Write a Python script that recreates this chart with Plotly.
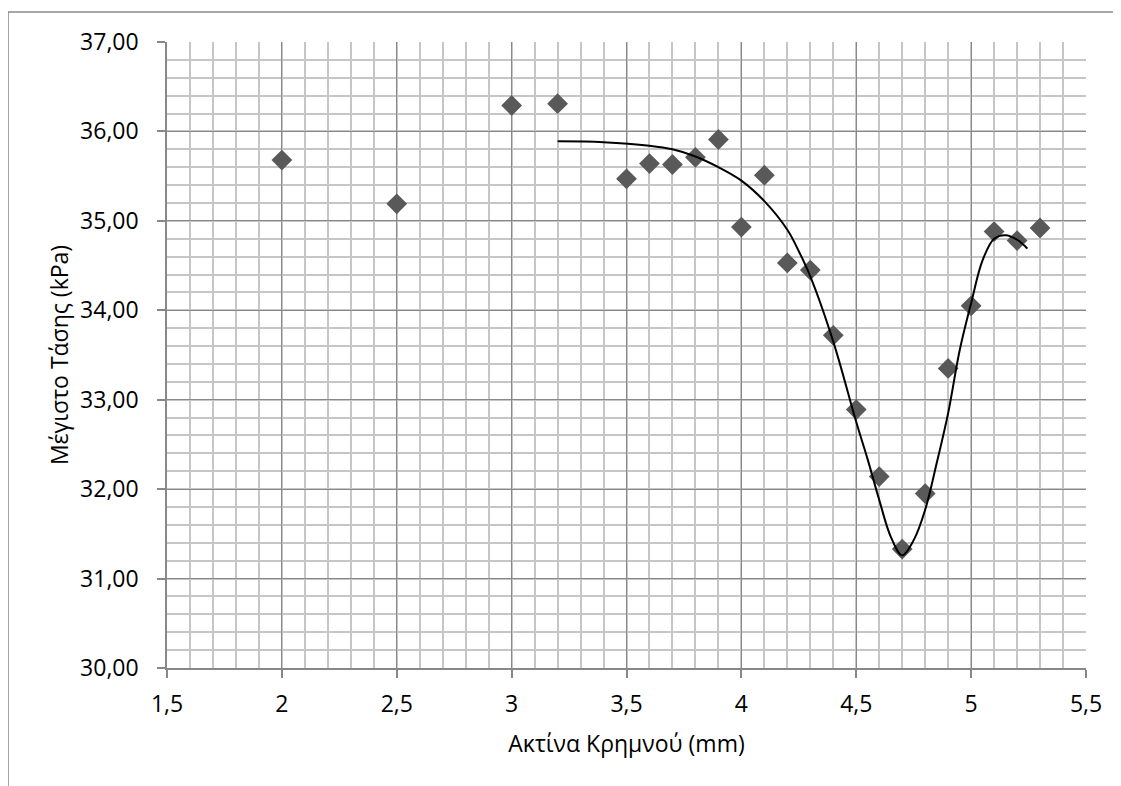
import plotly.graph_objects as go

# Measured data (radius in mm, max stress in kPa)
radius_mm = [2.0, 2.5, 3.0, 3.2, 3.5, 3.6, 3.7, 3.8, 3.9, 4.0, 4.1, 4.2, 4.3,
             4.4, 4.5, 4.6, 4.7, 4.8, 4.9, 5.0, 5.1, 5.2, 5.3]
max_stress_kpa = [35.68, 35.19, 36.29, 36.31, 35.47, 35.64, 35.63, 35.71, 35.91,
                  34.93, 35.51, 34.53, 34.45, 33.72, 32.89, 32.14, 31.33, 31.95,
                  33.35, 34.05, 34.88, 34.78, 34.92]

# Trend curve
trend_x = [3.2, 3.4, 3.6, 3.7, 3.8, 3.9, 4.0, 4.1, 4.2, 4.25, 4.3, 4.4, 4.5,
           4.55, 4.6, 4.65, 4.7, 4.75, 4.8, 4.85, 4.9, 4.95, 5.0, 5.05, 5.1,
           5.15, 5.2, 5.245]
trend_y = [35.89, 35.88, 35.84, 35.80, 35.72, 35.60, 35.45, 35.22, 34.90, 34.66,
           34.38, 33.65, 32.75, 32.33, 31.88, 31.47, 31.26, 31.43, 31.77, 32.29,
           32.85, 33.55, 34.08, 34.56, 34.80, 34.84, 34.79, 34.69]

x_tick_vals = [1.5, 2.0, 2.5, 3.0, 3.5, 4.0, 4.5, 5.0, 5.5]
x_tick_labels = ["1,5", "2", "2,5", "3", "3,5", "4", "4,5", "5", "5,5"]
y_tick_vals = [30, 31, 32, 33, 34, 35, 36, 37]
y_tick_labels = ["30,00", "31,00", "32,00", "33,00", "34,00", "35,00", "36,00", "37,00"]

x_title = "Ακτίνα Κρημνού (mm)"
y_title = "Μέγιστο Τάσης (kPa)"

FONT = "Open Sans, Noto Sans, DejaVu Sans, sans-serif"
MAJOR = "#888888"
MINOR = "#c6c6c6"

fig = go.Figure()
fig.add_trace(go.Scatter(
    x=radius_mm, y=max_stress_kpa, mode="markers",
    marker=dict(symbol="diamond", size=16, color="#595959", line=dict(width=0)),
    showlegend=False, cliponaxis=False,
))
fig.add_trace(go.Scatter(
    x=trend_x, y=trend_y, mode="lines",
    line=dict(color="black", width=2, shape="spline", smoothing=1.0),
    showlegend=False,
))

fig.update_layout(
    width=1113, height=778,
    margin=dict(l=159, r=35, t=34, b=118, autoexpand=False),
    paper_bgcolor="white", plot_bgcolor="white",
    font=dict(family=FONT, size=23, color="black"),
    shapes=[
        dict(type="line", xref="paper", yref="paper", x0=-0.173, x1=1.05,
             y0=1.048, y1=1.048, line=dict(color="#888888", width=1.5)),
        dict(type="line", xref="paper", yref="paper", x0=-0.173, x1=-0.173,
             y0=1.048, y1=-0.25, line=dict(color="#888888", width=1.5)),
    ],
)

fig.update_xaxes(
    range=[1.5, 5.5], tickvals=x_tick_vals, ticktext=x_tick_labels,
    showgrid=True, gridcolor=MAJOR, gridwidth=1.2,
    minor=dict(dtick=0.1, showgrid=True, gridcolor=MINOR, gridwidth=1.5),
    showline=True, linecolor=MAJOR, linewidth=1.5,
    ticks="outside", ticklen=8, tickcolor=MAJOR, tickwidth=1.5,
    ticklabelstandoff=7, automargin=False,
    zeroline=False,
    title=dict(text=x_title, standoff=18, font=dict(size=23)),
)
fig.update_yaxes(
    range=[30, 37], tickvals=y_tick_vals, ticktext=y_tick_labels,
    showgrid=True, gridcolor=MAJOR, gridwidth=1.2,
    minor=dict(dtick=0.2, showgrid=True, gridcolor=MINOR, gridwidth=1.5),
    showline=True, linecolor=MAJOR, linewidth=1.5,
    ticks="outside", ticklen=8, tickcolor=MAJOR, tickwidth=1.5,
    ticklabelstandoff=14, automargin=False,
    zeroline=False,
    title=dict(text=y_title, standoff=5, font=dict(size=23)),
)

fig.write_html("out.html")
